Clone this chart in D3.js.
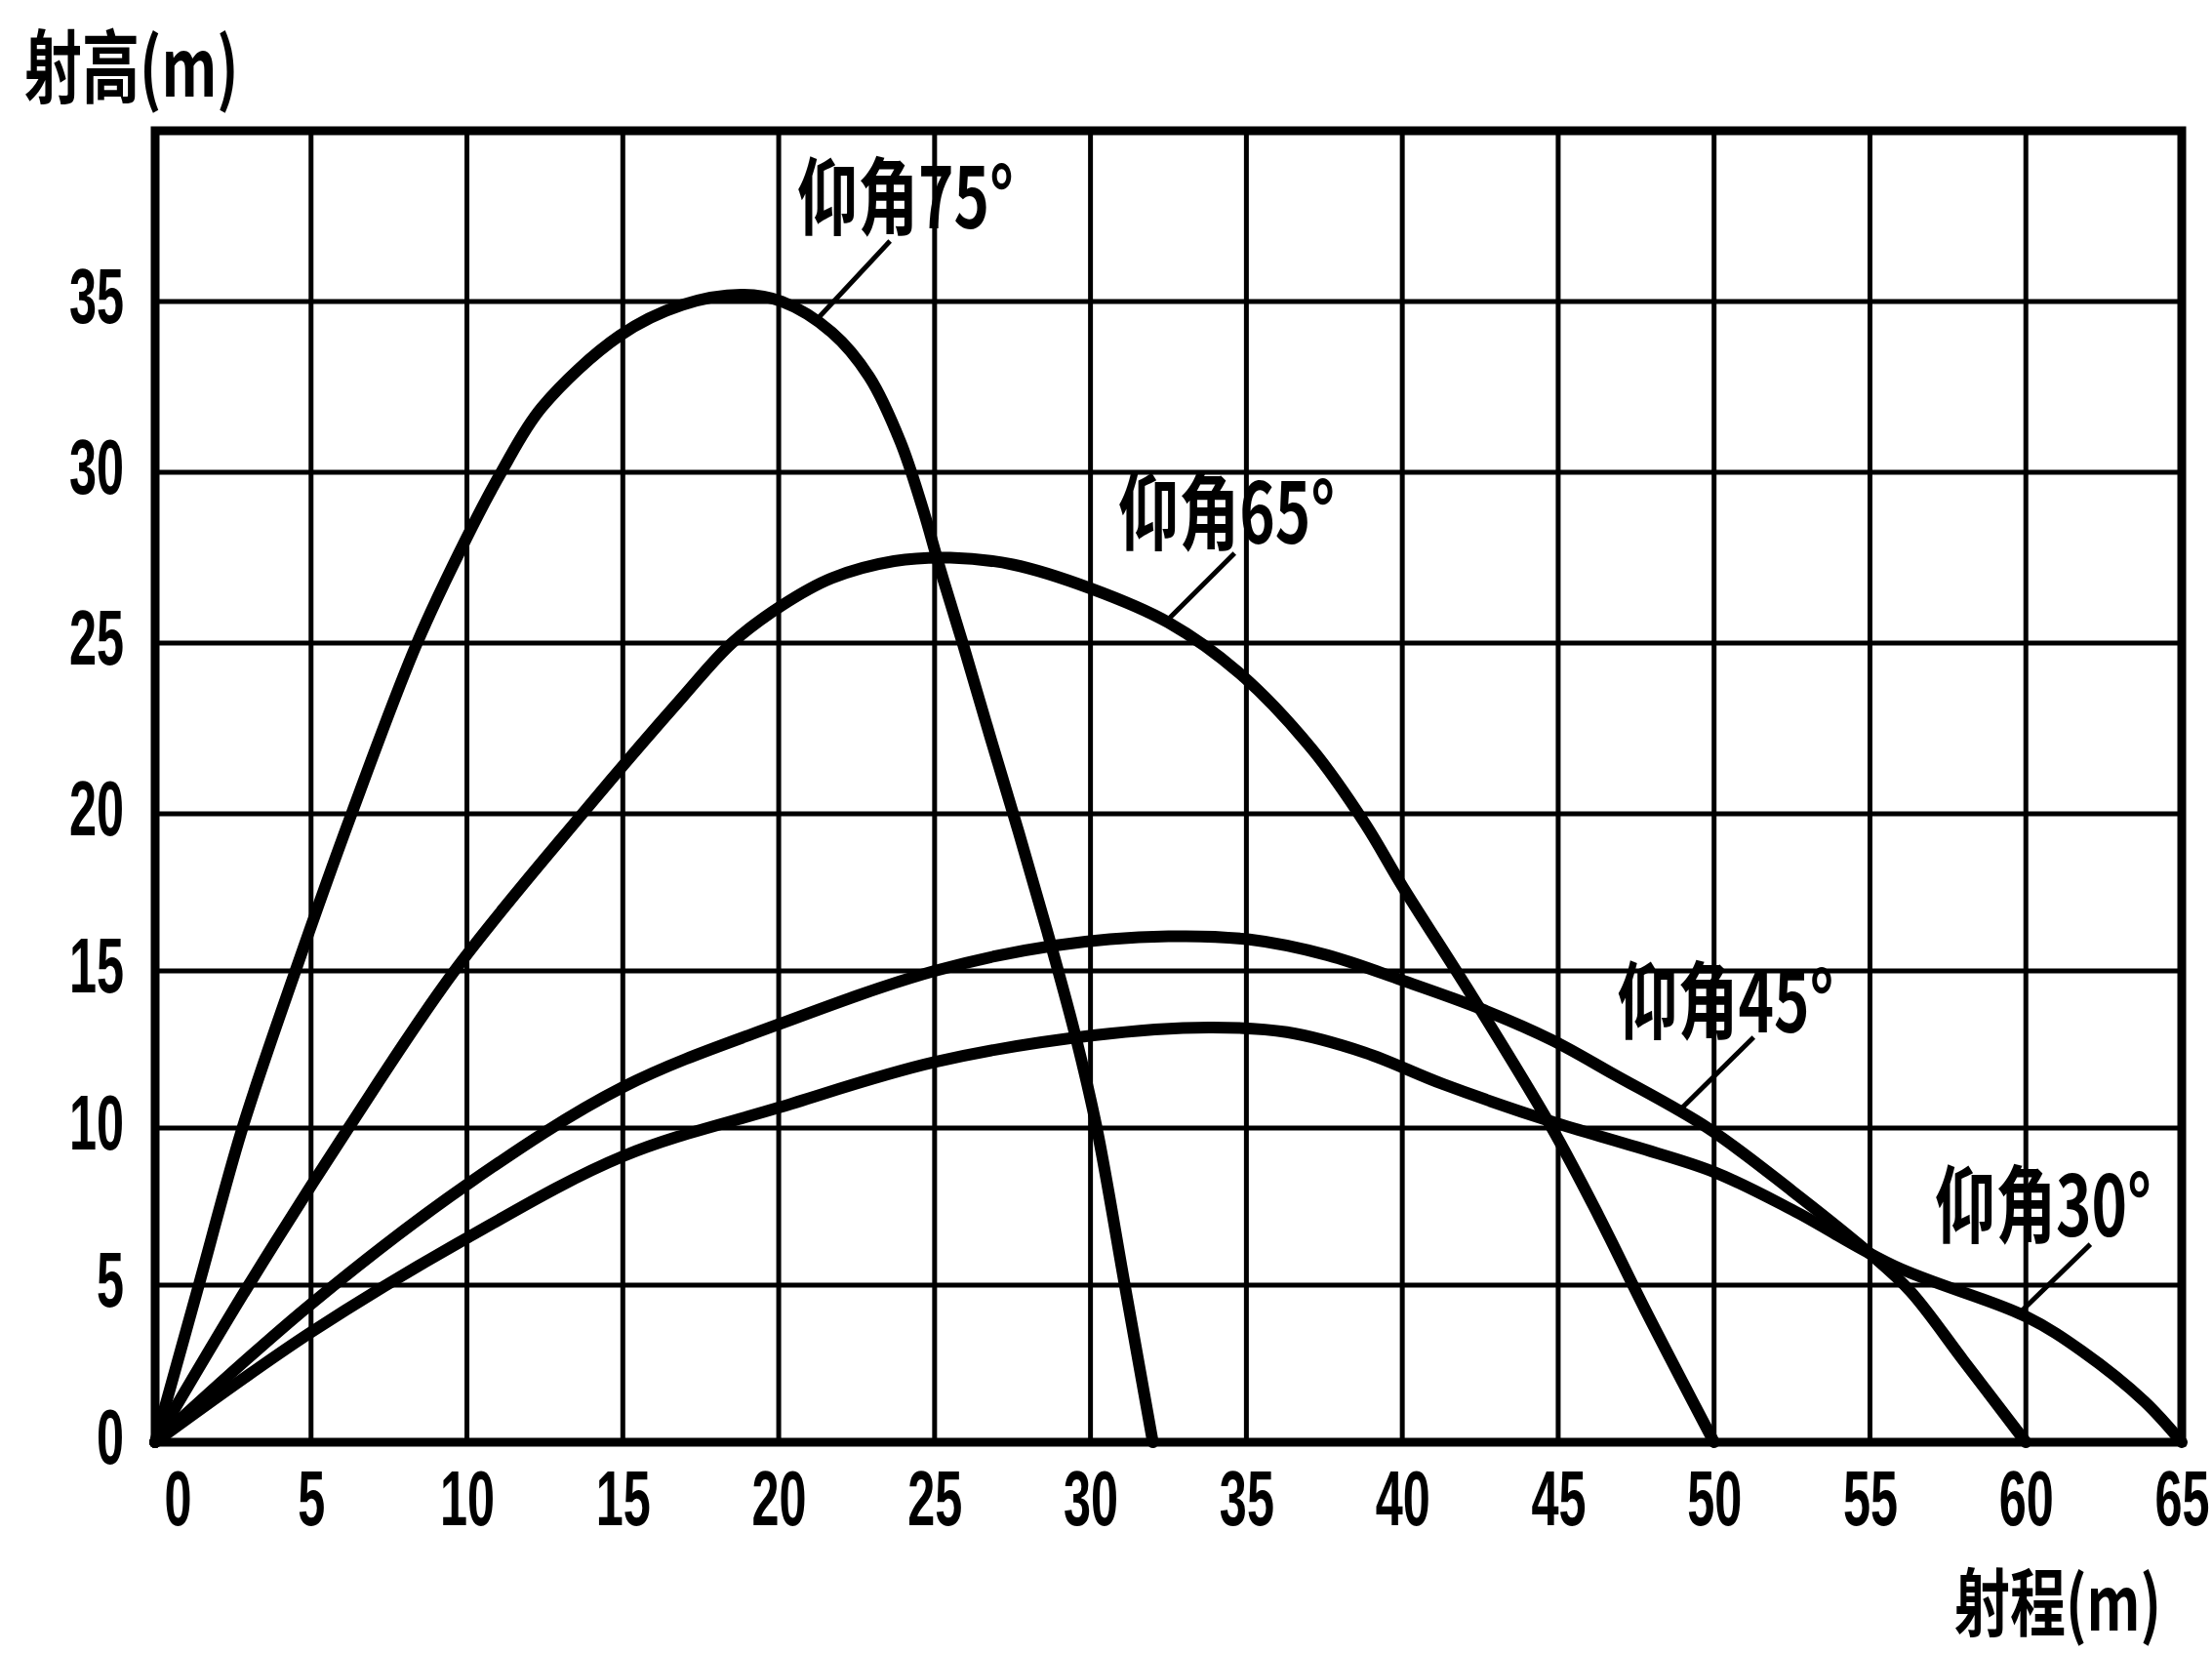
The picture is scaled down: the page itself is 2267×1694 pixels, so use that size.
<!DOCTYPE html>
<html><head><meta charset="utf-8">
<script src="https://cdn.jsdelivr.net/npm/d3@7"></script>
<style>html,body{margin:0;padding:0;background:#fff;} svg{display:block}</style>
</head><body>
<script>
// ---- data ----
const xTicks = [0,5,10,15,20,25,30,35,40,45,50,55,60,65];
const yTicks = [0,5,10,15,20,25,30,35];
const xTitle = "射程(m)";
const yTitle = "射高(m)";

const traj75 = [[0,0],[1.4,5],[2.8,10],[4.5,15],[6.3,20],[8.4,25],[10,28.1],[11.1,30],[12.4,31.9],[14.9,34.0],[16.9,34.9],[18.8,35.2],[20.1,35.0],[21.7,34.1],[22.9,32.8],[23.9,30.9],[24.6,29.0],[25.2,27.1],[25.9,25.0],[26.8,22.2],[27.7,19.4],[28.6,16.3],[29.5,13.0],[30.2,10.0],[31.1,5.0],[32,0]];
const traj65 = [[0,0],[3,5],[6.2,10],[9.6,15],[13.7,20],[16.9,23.4],[18.5,25.0],[20.1,26.1],[21.7,26.9],[23.7,27.4],[25.5,27.5],[27.5,27.3],[30,26.6],[32.5,25.6],[34.8,24.1],[37.1,21.9],[38.8,19.7],[40,17.7],[42.3,14.1],[44.8,10],[46.3,7.2],[47.8,4.2],[50,0]];
const traj45 = [[0,0],[5,4.4],[10,8.2],[15,11.3],[20,13.3],[25,15.0],[28.8,15.8],[32.5,16.1],[35.1,16.0],[37.6,15.5],[40,14.7],[42.5,13.8],[44.8,12.8],[46.8,11.7],[49.8,10.0],[52.5,8.0],[55,6.0],[56.3,4.8],[58,2.6],[60,0]];
const traj30 = [[0,0],[5,3.5],[10,6.5],[15,9.1],[20,10.65],[25,12.1],[30.1,12.95],[33.8,13.2],[36.3,13.05],[38.8,12.4],[41.3,11.4],[44.8,10.2],[47.5,9.4],[50,8.6],[52.5,7.4],[55.8,5.6],[60,4.0],[61.8,2.9],[63.8,1.3],[65,0]];

const labels = ["仰角75°","仰角65°","仰角45°","仰角30°"];
const labelAt = [[20.6,37.14],[30.9,27.91],[46.9,13.04],[57.09,6.55]];
const leaderFrom = [[23.57,36.77],[34.62,27.63],[51.27,12.89],[62.07,6.3]];
const leaderTo = [[21.25,34.5],[32.49,25.69],[48.92,10.59],[59.75,4.07]];

// ---- chart ----
const W = 2267, H = 1694;
const svg = d3.select("body").append("svg").attr("width", W).attr("height", H)
  .style("background", "#fff");

const x = d3.scaleLinear().domain([0,65]).range([159,2236]);
const y = d3.scaleLinear().domain([0,20,40]).range([1478,834,134]);

const cjk = "'Noto Sans CJK SC','Noto Sans CJK JP',sans-serif";
const num = "'Liberation Sans','Arimo',sans-serif";

// grid
svg.append("g").selectAll("line").data(xTicks).join("line")
  .attr("x1", d => x(d)).attr("x2", d => x(d))
  .attr("y1", y(0)).attr("y2", y(40))
  .attr("stroke", "#000").attr("stroke-width", 5);
svg.append("g").selectAll("line").data(yTicks).join("line")
  .attr("x1", x(0)).attr("x2", x(65))
  .attr("y1", d => y(d)).attr("y2", d => y(d))
  .attr("stroke", "#000").attr("stroke-width", 5);

// frame
svg.append("rect")
  .attr("x", x(0)).attr("y", y(40))
  .attr("width", x(65) - x(0)).attr("height", y(0) - y(40))
  .attr("fill", "none").attr("stroke", "#000").attr("stroke-width", 9);

// axes (labels only)
const sx = 0.63;
const gx = svg.append("g").attr("transform", `translate(0,${y(0)})`)
  .call(d3.axisBottom(x).tickValues(xTicks).tickSize(0).tickFormat(d3.format("d")));
gx.select(".domain").remove();
gx.selectAll("text")
  .attr("font-family", num).attr("font-weight", "bold").attr("font-size", 80)
  .attr("fill", "#000")
  .attr("dy", null).attr("y", 85)
  .attr("x", d => (d === 0 ? 23 : 0) / sx)
  .attr("transform", `scale(${sx},1)`);

const gy = svg.append("g").attr("transform", `translate(${x(0)},0)`)
  .call(d3.axisLeft(y).tickValues(yTicks).tickSize(0).tickFormat(d3.format("d")));
gy.select(".domain").remove();
gy.selectAll("text")
  .attr("font-family", num).attr("font-weight", "bold").attr("font-size", 80)
  .attr("fill", "#000")
  .attr("text-anchor", "end")
  .attr("dy", "0.27em")
  .attr("x", -32 / sx)
  .attr("transform", `scale(${sx},1)`);

// axis titles
const tsx = 0.72;
svg.append("text").text(yTitle)
  .attr("transform", `translate(25,99) scale(0.72,1)`)
  .attr("font-family", cjk).attr("font-weight", "bold").attr("font-size", 82);
svg.append("text").text(xTitle)
  .attr("transform", `translate(2003,1671) scale(0.75,1)`)
  .attr("font-family", cjk).attr("font-weight", "bold").attr("font-size", 76);

// curves
const line = d3.line().x(d => x(d[0])).y(d => y(d[1])).curve(d3.curveCatmullRom.alpha(0.5));
[traj75, traj65, traj45, traj30].forEach(t => {
  svg.append("path").attr("d", line(t))
    .attr("fill", "none").attr("stroke", "#000")
    .attr("stroke-width", 12).attr("stroke-linejoin", "round").attr("stroke-linecap", "round");
});

// annotations
svg.append("g").selectAll("line").data(labels.map((l, i) => i)).join("line")
  .attr("x1", i => x(leaderFrom[i][0])).attr("y1", i => y(leaderFrom[i][1]))
  .attr("x2", i => x(leaderTo[i][0])).attr("y2", i => y(leaderTo[i][1]))
  .attr("stroke", "#000").attr("stroke-width", 5);
svg.append("g").selectAll("text").data(labels).join("text")
  .text(d => d)
  .attr("transform", (d, i) => `translate(${x(labelAt[i][0])},${y(labelAt[i][1])}) scale(${tsx},1)`)
  .attr("font-family", cjk).attr("font-weight", "bold").attr("font-size", 86);
</script>
</body></html>
